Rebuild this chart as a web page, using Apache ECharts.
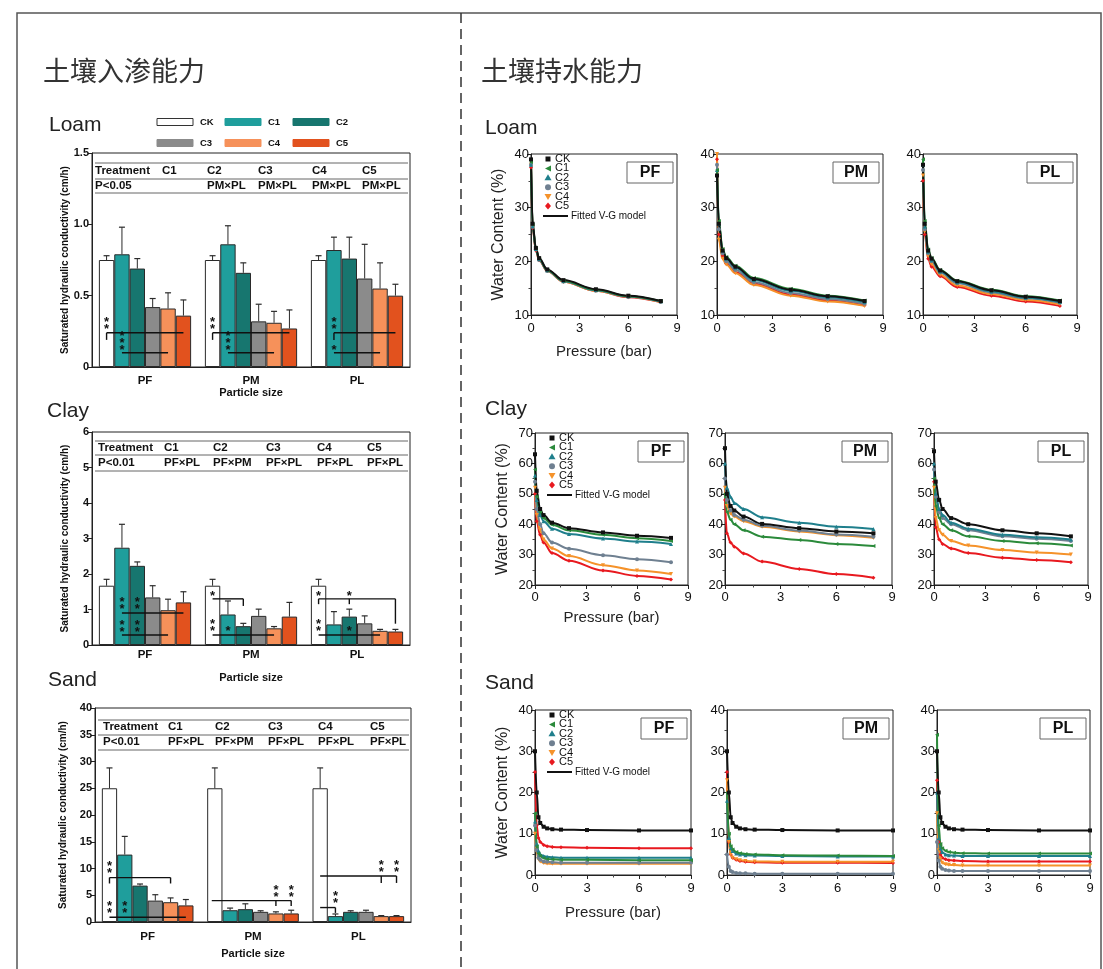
<!DOCTYPE html>
<html><head><meta charset="utf-8">
<script src="https://cdn.jsdelivr.net/npm/echarts@6/dist/echarts.min.js"></script>
<style>html,body{margin:0;padding:0;background:#fff}#c{width:1103px;height:969px}</style>
</head><body><div id="c"></div>
<script>
// ---------------- DATA ----------------
const particleCats = ['PF', 'PM', 'PL'];
const treatments = ['CK', 'C1', 'C2', 'C3', 'C4', 'C5'];

// Saturated hydraulic conductivity (cm/h): rows = treatments, cols = PF, PM, PL
const loamMean = [[0.75,0.75,0.75],[0.79,0.86,0.82],[0.69,0.66,0.76],[0.42,0.32,0.62],[0.41,0.31,0.55],[0.36,0.27,0.50]];
const loamErr  = [[0.03,0.03,0.03],[0.19,0.13,0.09],[0.07,0.07,0.15],[0.06,0.12,0.24],[0.11,0.08,0.18],[0.11,0.13,0.08]];
const clayMean = [[1.67,1.67,1.67],[2.74,0.86,0.58],[2.23,0.53,0.80],[1.34,0.82,0.61],[0.98,0.47,0.40],[1.20,0.80,0.38]];
const clayErr  = [[0.18,0.18,0.18],[0.66,0.38,0.36],[0.11,0.08,0.21],[0.33,0.19,0.21],[0.31,0.05,0.04],[0.30,0.40,0.06]];
const sandMean = [[25,25,25],[12.6,2.2,1.1],[6.8,2.4,1.9],[4.0,1.9,1.9],[3.7,1.6,1.1],[3.1,1.6,1.1]];
const sandErr  = [[3.8,3.8,3.8],[3.4,0.4,0.4],[0.3,1.0,0.2],[1.1,0.2,0.3],[0.8,0.3,0.1],[1.1,0.6,0.1]];

// significance segments: [group, barFrom, yFrom, barTo, yTo]
const loamSegs = [[0,0,0.24,5,0.24],[0,0,0.24,0,0.19],[0,1,0.10,4,0.10],
                  [1,0,0.24,5,0.24],[1,0,0.24,0,0.19],[1,1,0.10,4,0.10],
                  [2,1,0.24,5,0.24],[2,1,0.24,1,0.19],[2,1,0.10,4,0.10]];
const loamStars = [[0,0,0.28,2],[0,1,0.13,3],[1,0,0.28,2],[1,1,0.13,3],[2,1,0.28,2],[2,1,0.13,1]];
const claySegs = [[0,1,0.9,5,0.9],[0,1,0.28,4,0.28],
                  [1,0,1.3,2,1.3],[1,2,1.3,2,1.1],[1,0,0.28,4,0.28],
                  [2,0,1.3,5,1.3],[2,0,1.3,0,1.15],[2,2,1.3,2,1.15],[2,5,1.3,5,0.6],[2,0,0.28,4,0.28]];
const clayStars = [[0,1,1.05,2],[0,2,1.05,2],[0,1,0.42,2],[0,2,0.42,2],
                   [1,0,1.42,1],[1,0,0.45,2],[1,1,0.45,1],
                   [2,0,1.42,1],[2,2,1.42,1],[2,0,0.45,2],[2,2,0.45,1]];
const sandSegs = [[0,0,8.3,4,8.3],[0,0,8.3,0,7.2],[0,4,8.3,4,7.2],[0,0,0.9,5,0.9],
                  [1,-0.2,4.0,5,4.0],[1,4,4.0,4,3.0],[1,5,4.0,5,3.0],
                  [2,0,8.6,5,8.6],[2,4,8.6,4,7.3],[2,5,8.6,5,7.3],[2,0,2.7,1,2.7],[2,1,2.7,1,1.7]];
const sandStars = [[0,0,9.4,2],[0,0,2.0,2],[0,1,2.0,2],[1,4,5.0,2],[1,5,5.0,2],[2,4,9.7,2],[2,5,9.7,2],[2,1,3.8,2]];

// ANOVA table texts
const tableHeader = ['Treatment','C1','C2','C3','C4','C5'];
const loamTableRow = ['P<0.05','','PM×PL','PM×PL','PM×PL','PM×PL'];
const clayTableRow = ['P<0.01','PF×PL','PF×PM','PF×PL','PF×PL','PF×PL'];
const sandTableRow = ['P<0.01','PF×PL','PF×PM','PF×PL','PF×PL','PF×PL'];

// Water retention: pressure (bar) and water content (%) per treatment (CK..C5)
const pressLC = [0, 0.1, 0.3, 0.5, 1, 2, 4, 6, 8];
const pressSand = [0, 0.1, 0.2, 0.3, 0.5, 0.7, 1, 1.5, 3, 6, 9];

const loamPF = [[39,27,22.5,20.6,18.5,16.5,14.8,13.6,12.6],[38.5,26.8,22.4,20.5,18.4,16.4,14.7,13.5,12.6],[38,26.5,22.3,20.4,18.3,16.3,14.6,13.5,12.5],[38,26.5,22.2,20.3,18.3,16.3,14.6,13.4,12.5],[38,26.4,22.2,20.3,18.2,16.2,14.5,13.4,12.4],[37.5,26.2,22,20.2,18.2,16.2,14.5,13.3,12.4]];
const loamPM = [[36,27,22,20.6,19,16.7,14.7,13.5,12.6],[37,27.5,22.3,20.8,19.2,16.9,14.9,13.6,12.7],[37,27,22,20.5,18.8,16.5,14.5,13.3,12.4],[38,26,21.5,20,18.4,16.1,14.1,13,12.1],[40,24,20.5,19.4,17.8,15.6,13.6,12.5,11.7],[39,25,21,19.6,18,15.8,13.8,12.7,11.8]];
const loamPL = [[38,27,22,20.5,18.3,16.3,14.6,13.4,12.6],[39,27.5,22.2,20.6,18.4,16.4,14.7,13.5,12.7],[38,26.5,21.8,20.2,18.1,16.1,14.4,13.2,12.4],[37,26,21.5,20,17.9,15.9,14.2,13.1,12.3],[36,25.5,21,19.5,17.5,15.5,13.9,12.8,12],[35,25,20.5,19,17.2,15.2,13.6,12.5,11.7]];

const clayPF = [[63,51,45,43,40.5,38.7,37.3,36.2,35.5],[58,49,44,42,39.8,38,36.5,35.4,34.5],[56,48,43,41,38.5,36.8,35.3,34.3,33.5],[54,45,40,37,34,31.9,29.8,28.5,27.5],[52,43,38,35,32,29.5,26.5,24.8,23.6],[50,41,36.5,34,30.5,28,24.8,23,21.8]];
const clayPM = [[65,50,46,44.5,42.5,40.1,38.7,37.6,37],[50,44,41.5,40,38,35.9,34.8,33.5,32.8],[60,52,49,47,45,42.3,40.5,39.2,38.4],[55,48,44.5,43,41.5,39.5,37.9,36.6,35.9],[52,46,43.5,42.5,41,39.2,37.6,36.4,35.5],[48,37,34,32.6,30.4,27.7,25.3,23.6,22.4]];
const clayPL = [[64,54,48,45,42,40,38,37,36],[55,46,42,40,38,36,34.5,33.7,33],[60,50,45,43,40.5,38.5,36.5,35.7,35],[58,49,44,42,40,38,36,35.2,34.5],[52,42,38,36.5,34.5,33,31.5,30.7,30],[54,39,35,33.5,32,30.5,29,28.2,27.5]];

const sandPF = [[30,20,14,12.6,11.7,11.3,11.1,11,10.9,10.8,10.8],[15,7,5.2,4.6,4.1,3.9,3.8,3.7,3.7,3.6,3.6],[13,7.5,5.8,5,4.6,4.4,4.3,4.2,4.2,4.2,4.2],[12,6,4.2,3.7,3.3,3.2,3.1,3,3,3,3],[10,5.5,3.8,3.3,2.9,2.8,2.7,2.7,2.7,2.7,2.7],[25,12,9,8,7.3,7,6.8,6.7,6.6,6.5,6.5]];
const sandPM = [[30,20,14,12.6,11.7,11.3,11.1,11,10.9,10.8,10.8],[20,10,7,6.2,5.6,5.3,5.1,5,4.8,4.7,4.6],[18,9,6.5,5.8,5.2,5,4.8,4.7,4.6,4.5,4.5],[5,2,1,0.7,0.5,0.4,0.4,0.3,0.3,0.3,0.3],[23,8,5,4.2,3.8,3.6,3.4,3.3,3.2,3.2,3.2],[25,8,5,4.2,3.7,3.4,3.2,3.1,3,3,2.9]];
const sandPL = [[30,20,14,12.6,11.7,11.3,11.1,11,10.9,10.8,10.8],[34,12,7.5,6.5,5.9,5.6,5.4,5.3,5.2,5.2,5.2],[20,9,6.5,5.6,5,4.8,4.7,4.6,4.6,4.6,4.6],[8,3.5,2,1.5,1.2,1.1,1,1,1,1,1],[15,6,3.8,3,2.6,2.5,2.4,2.3,2.3,2.3,2.3],[23,8,5,4.2,3.8,3.6,3.5,3.4,3.3,3.3,3.3]];

// ---------------- STYLE / LAYOUT ----------------
const FONT = 'Liberation Sans, Arial, sans-serif';
const NARROW = 'Liberation Sans Narrow, Liberation Sans, Arial, sans-serif';
const barColors = ['#ffffff','#1f9e9c','#17766f','#8b8b8b','#f6915a','#e2521e'];
const lineColors = ['#111111','#2b8a3b','#1f7f8c','#6f8091','#f5922a','#e8191f'];
const lineSymbols = ['rect','triangle','triangle','circle','triangle','diamond'];
const lineSymbolRot = [0,90,0,0,180,0];
const CAT_GAP = 0.13;

const barPanels = [
  {mean: loamMean, err: loamErr, segs: loamSegs, stars: loamStars, row: loamTableRow,
   grid:{left:92, top:153, width:318, height:214}, max:1.5, interval:0.5, fmt: v => v === 0 ? '0' : v.toFixed(1),
   lblMargin:8, nameGap:20, nameCx:65, cols:[95,162,207,258,312,362], lines:[163,179,193], texts:[171,186]},
  {mean: clayMean, err: clayErr, segs: claySegs, stars: clayStars, row: clayTableRow,
   grid:{left:92, top:432, width:318, height:213}, max:6, interval:1, fmt: v => String(v),
   lblMargin:4, nameGap:27, nameCx:65, cols:[98,164,213,266,317,367], lines:[441,455,471], texts:[448,463]},
  {mean: sandMean, err: sandErr, segs: sandSegs, stars: sandStars, row: sandTableRow,
   grid:{left:95, top:708, width:316, height:214}, max:40, interval:5, fmt: v => String(v),
   lblMargin:9, nameGap:26, nameCx:63, cols:[103,168,215,268,318,370], lines:[720,735,750], texts:[727,742]}
];

const lineRows = [
  {panels:[loamPF, loamPM, loamPL], press: pressLC, min:10, max:40, top:154, height:161, cols:[[531,146],[717,166],[923,154]], lblMargin:7, nameGap:29},
  {panels:[clayPF, clayPM, clayPL], press: pressLC, min:20, max:70, top:433, height:152, cols:[[535,153],[725,167],[934,154]], lblMargin:6, nameGap:25},
  {panels:[sandPF, sandPM, sandPL], press: pressSand, min:0, max:40, top:710, height:165, cols:[[535,156],[727,166],[937,153]], lblMargin:7, nameGap:30}
];

// ---------------- BUILD ----------------
const grids = [], xAxes = [], yAxes = [], series = [], graphics = [];

function barOffset(api, b){
  const band = api.size([1, 0])[0];
  const bw = band * (1 - CAT_GAP) / 6;
  return (b - 2.5) * bw;
}

barPanels.forEach((p, gi) => {
  grids.push(Object.assign({show:true, borderColor:'#222', borderWidth:1, backgroundColor:'transparent'}, p.grid));
  xAxes.push({type:'category', gridIndex:gi, data:particleCats, axisTick:{show:false},
    axisLine:{lineStyle:{color:'#222', width:1}},
    axisLabel:{fontSize:11.5, fontWeight:'bold', color:'#111', fontFamily:FONT, margin:p.lblMargin},
    name:'Particle size', nameLocation:'middle', nameGap:p.nameGap,
    nameTextStyle:{fontSize:11, fontWeight:'bold', color:'#111', fontFamily:FONT}});
  yAxes.push({type:'value', gridIndex:gi, min:0, max:p.max, interval:p.interval, splitLine:{show:false},
    axisLine:{show:true, lineStyle:{color:'#222'}}, axisTick:{show:true, length:4, lineStyle:{color:'#222'}},
    axisLabel:{formatter:p.fmt, fontSize:11, fontWeight:'bold', color:'#111', fontFamily:FONT, margin:3},
    name:'Saturated hydraulic conductivity (cm/h)', nameLocation:'middle', nameGap: p.grid.left - p.nameCx - 5,
    nameTextStyle:{fontSize:10, fontWeight:'bold', color:'#111', fontFamily:FONT}});
  treatments.forEach((t, ti) => {
    series.push({type:'bar', name:t, xAxisIndex:gi, yAxisIndex:gi, data:p.mean[ti],
      barGap:'0%', barCategoryGap:(CAT_GAP*100)+'%',
      itemStyle:{color:barColors[ti], borderColor:'#2a2a2a', borderWidth:1}});
  });
  const errData = [];
  treatments.forEach((t, ti) => particleCats.forEach((c, ci) => errData.push([ci, ti, p.mean[ti][ci], p.err[ti][ci]])));
  series.push({type:'custom', xAxisIndex:gi, yAxisIndex:gi, data:errData, encode:{x:0, y:2}, z:3,
    renderItem:(params, api) => {
      const g = api.value(0), b = api.value(1), m = api.value(2), e = api.value(3);
      const c1 = api.coord([g, m]), c2 = api.coord([g, m + e]);
      const x = c1[0] + barOffset(api, b);
      return {type:'group', children:[
        {type:'line', shape:{x1:x, y1:c1[1], x2:x, y2:c2[1]}, style:{stroke:'#2a2a2a', lineWidth:1}},
        {type:'line', shape:{x1:x-3, y1:c2[1], x2:x+3, y2:c2[1]}, style:{stroke:'#2a2a2a', lineWidth:1.2}}]};
    }});
  series.push({type:'custom', xAxisIndex:gi, yAxisIndex:gi, data:p.segs, encode:{x:0, y:2}, z:4,
    renderItem:(params, api) => {
      const g = api.value(0);
      const a = api.coord([g, api.value(2)]), b = api.coord([g, api.value(4)]);
      return {type:'line', shape:{x1:a[0] + barOffset(api, api.value(1)), y1:a[1], x2:b[0] + barOffset(api, api.value(3)), y2:b[1]},
        style:{stroke:'#111', lineWidth:1.4}};
    }});
  series.push({type:'custom', xAxisIndex:gi, yAxisIndex:gi, data:p.stars, encode:{x:0, y:2}, z:5,
    renderItem:(params, api) => {
      const g = api.value(0), n = api.value(3);
      const c = api.coord([g, api.value(2)]);
      const x = c[0] + barOffset(api, api.value(1));
      const kids = [];
      for (let k = 0; k < n; k++) kids.push({type:'text', x:x, y:c[1] - k*7 + 2,
        style:{text:'*', font:'bold 13px ' + FONT, fill:'#111', align:'center', verticalAlign:'middle'}});
      return {type:'group', children:kids};
    }});
  // table
  const gl = p.grid.left, gr = p.grid.left + p.grid.width;
  p.lines.forEach(y => graphics.push({type:'line', shape:{x1:gl+3, y1:y, x2:gr-2, y2:y}, style:{stroke:'#666', lineWidth:1}, silent:true}));
  tableHeader.forEach((txt, k) => graphics.push({type:'text', x:p.cols[k], y:p.texts[0],
    style:{text:txt, font:'bold 11.5px ' + FONT, fill:'#111', verticalAlign:'middle'}}));
  p.row.forEach((txt, k) => graphics.push({type:'text', x:p.cols[k], y:p.texts[1],
    style:{text:txt, font:'bold 11.5px ' + FONT, fill:'#111', verticalAlign:'middle'}}));
});

lineRows.forEach((row, ri) => {
  row.panels.forEach((vals, ci) => {
    const gi = grids.length;
    const [left, width] = row.cols[ci];
    grids.push({show:true, borderColor:'#222', borderWidth:1, left:left, top:row.top, width:width, height:row.height});
    xAxes.push({type:'value', gridIndex:gi, min:0, max:9, interval:3, splitLine:{show:false},
      axisLine:{lineStyle:{color:'#222'}}, axisTick:{show:true, length:4, lineStyle:{color:'#222'}},
      minorTick:{show:true, splitNumber:2, length:2.5, lineStyle:{color:'#444'}},
      axisLabel:{fontSize:13, color:'#111', fontFamily:FONT, margin:row.lblMargin},
      name: ci === 0 ? 'Pressure (bar)' : '', nameLocation:'middle', nameGap:row.nameGap,
      nameTextStyle:{fontSize:15, color:'#222', fontFamily:FONT}});
    yAxes.push({type:'value', gridIndex:gi, min:row.min, max:row.max, interval:10, splitLine:{show:false},
      axisLine:{show:true, lineStyle:{color:'#222'}}, axisTick:{show:true, length:4, lineStyle:{color:'#222'}},
      minorTick:{show:true, splitNumber:2, length:2.5, lineStyle:{color:'#444'}},
      axisLabel:{fontSize:13, color:'#111', fontFamily:FONT, margin:2},
      name: ci === 0 ? 'Water Content (%)' : '', nameLocation:'middle', nameGap:24,
      nameTextStyle:{fontSize:16, color:'#222', fontFamily:FONT}});
    for (let ti = 5; ti >= 0; ti--) {
      series.push({type:'line', name:'wc-' + treatments[ti], xAxisIndex:gi, yAxisIndex:gi,
        data: row.press.map((pr, k) => [pr, vals[ti][k]]),
        smooth:0.35, smoothMonotone:'x', symbol:lineSymbols[ti], symbolRotate:lineSymbolRot[ti], symbolSize:4,
        showAllSymbol:true, lineStyle:{color:lineColors[ti], width:2}, itemStyle:{color:lineColors[ti]}});
    }
    // PF / PM / PL box
    const bx = left + width - 4 - 46, by = row.top + 8;
    graphics.push({type:'rect', shape:{x:bx, y:by, width:46, height:21}, style:{fill:'#fff', stroke:'#666', lineWidth:1}, z:10});
    graphics.push({type:'text', x:bx + 23, y:by + 11, z:11,
      style:{text:particleCats[ci], font:'bold 16px ' + FONT, fill:'#111', align:'center', verticalAlign:'middle'}});
    if (ci === 0) {
      const mx = left + 17, tx = left + 24;
      treatments.forEach((t, ti) => {
        const y = row.top + 5 + ti * 9.4, col = lineColors[ti];
        let shp;
        if (ti === 0) shp = {type:'rect', shape:{x:mx-2.5, y:y-2.5, width:5, height:5}, style:{fill:col}};
        else if (ti === 1) shp = {type:'polygon', shape:{points:[[mx+3,y-3],[mx+3,y+3],[mx-3,y]]}, style:{fill:col}};
        else if (ti === 2) shp = {type:'polygon', shape:{points:[[mx,y-3.5],[mx+3.5,y+2.5],[mx-3.5,y+2.5]]}, style:{fill:col}};
        else if (ti === 3) shp = {type:'circle', shape:{cx:mx, cy:y, r:3}, style:{fill:col}};
        else if (ti === 4) shp = {type:'polygon', shape:{points:[[mx,y+3.5],[mx+3.5,y-2.5],[mx-3.5,y-2.5]]}, style:{fill:col}};
        else shp = {type:'polygon', shape:{points:[[mx,y-3.5],[mx+3,y],[mx,y+3.5],[mx-3,y]]}, style:{fill:col}};
        shp.z = 10; graphics.push(shp);
        graphics.push({type:'text', x:tx, y:y, z:10,
          style:{text:t, font:'11px ' + NARROW, fill:'#111', verticalAlign:'middle'}});
      });
      const ly = row.top + 62;
      graphics.push({type:'line', shape:{x1:left+12, y1:ly, x2:left+37, y2:ly}, style:{stroke:'#111', lineWidth:2}, z:10});
      graphics.push({type:'text', x:left+40, y:ly, z:10,
        style:{text:'Fitted V-G model', font:'10px ' + NARROW, fill:'#111', verticalAlign:'middle'}});
    }
  });
});

// frame, divider, titles, soil labels, bar legend
graphics.push({type:'rect', shape:{x:17, y:13, width:1084, height:975}, style:{fill:'none', stroke:'#555', lineWidth:1.5}, silent:true});
graphics.push({type:'line', shape:{x1:461, y1:13, x2:461, y2:969}, style:{stroke:'#333', lineWidth:1.5, lineDash:[10,6]}, silent:true});
graphics.push({type:'text', x:43, y:71, style:{text:'土壤入渗能力', font:'27px "Noto Sans CJK SC"', fill:'#333', verticalAlign:'middle'}});
graphics.push({type:'text', x:481, y:71, style:{text:'土壤持水能力', font:'27px "Noto Sans CJK SC"', fill:'#333', verticalAlign:'middle'}});
[['Loam',49,125],['Clay',47,411],['Sand',48,680],['Loam',485,128],['Clay',485,409],['Sand',485,683]].forEach(s =>
  graphics.push({type:'text', x:s[1], y:s[2], style:{text:s[0], font:'21px ' + FONT, fill:'#222', verticalAlign:'middle'}}));
const legX = [157, 225, 293], legY = [122, 143];
treatments.forEach((t, ti) => {
  const x = legX[ti % 3], y = legY[Math.floor(ti / 3)];
  graphics.push({type:'rect', shape:{x:x, y:y-3.5, width:36, height:7}, style:{fill:barColors[ti], stroke: ti === 0 ? '#333' : barColors[ti], lineWidth:1}});
  graphics.push({type:'text', x:x + 43, y:y, style:{text:t, font:'bold 9.5px ' + FONT, fill:'#111', verticalAlign:'middle'}});
});

const chart = echarts.init(document.getElementById('c'), null, {renderer:'canvas'});
chart.setOption({
  animation:false, backgroundColor:'#fff',
  grid:grids, xAxis:xAxes, yAxis:yAxes, series:series, graphic:{elements:graphics}
});
</script></body></html>
